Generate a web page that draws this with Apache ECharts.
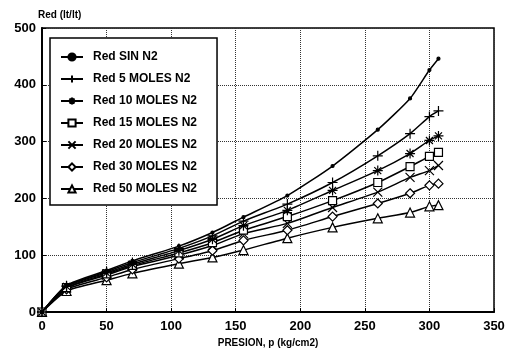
<!DOCTYPE html>
<html>
<head>
<meta charset="utf-8">
<title>Red vs presion</title>
<script src="https://cdn.jsdelivr.net/npm/echarts@6/dist/echarts.min.js"></script>
<style>
  html, body { margin: 0; padding: 0; background: #fff; }
  #main { width: 509px; height: 353px; }
</style>
</head>
<body>
<div id="main"></div>
<script>
// presion (kg/cm2)
var presion = [0, 19, 50, 70, 106, 132, 156, 190, 225, 260, 285, 300, 307];

// Red (lt/lt) por serie
var redSin = [0, 47, 73, 90, 116, 140, 167, 205, 257, 321, 376, 426, 446];
var red5   = [0, 46, 71, 87, 112, 134, 160, 190, 228, 275, 314, 344, 354];
var red10  = [0, 45, 69, 84, 108, 128, 152, 179, 214, 249, 279, 302, 310];
var red15  = [0, 43, 67, 82, 104, 122, 144, 168, 196, 228, 256, 274, 281];
var red20  = [0, 42, 65, 80, 100, 117, 138, 156, 184, 211, 237, 249, 258];
var red30  = [0, 40, 61, 75, 94, 108, 126, 144, 168, 191, 209, 223, 226];
var red50  = [0, 37, 56, 68, 85, 96, 109, 130, 149, 165, 175, 186, 188];

var seriesNames = ['Red SIN N2', 'Red 5 MOLES N2', 'Red 10 MOLES N2', 'Red 15 MOLES N2',
                   'Red 20 MOLES N2', 'Red 30 MOLES N2', 'Red 50 MOLES N2'];
var seriesData = [redSin, red5, red10, red15, red20, red30, red50];

var xTicks = [0, 50, 100, 150, 200, 250, 300, 350];
var yTicks = [0, 100, 200, 300, 400, 500];

var FONT = 'Liberation Sans';

var symbols = [
    { s: 'circle', size: 3, fill: '#000' },
    { s: 'path://M0,5L10,5M5,0L5,10', size: 10, fill: '#000' },
    { s: 'path://M0,5L10,5M5,0L5,10M1.5,1.5L8.5,8.5M8.5,1.5L1.5,8.5', size: 10, fill: '#000' },
    { s: 'rect', size: 8, fill: '#fff' },
    { s: 'path://M0,0L10,10M10,0L0,10', size: 9, fill: '#000' },
    { s: 'diamond', size: 9, fill: '#fff' },
    { s: 'triangle', size: 9, fill: '#fff' }
];

function pairs(ys) {
    return presion.map(function (x, i) { return [x, ys[i]]; });
}

var series = seriesNames.map(function (name, i) {
    return {
        name: name,
        type: 'line',
        data: pairs(seriesData[i]),
        symbol: symbols[i].s,
        symbolSize: symbols[i].size,
        showAllSymbol: true,
        smooth: 0.2,
        lineStyle: { color: '#000', width: 1.5 },
        itemStyle: { color: symbols[i].fill, borderColor: '#000', borderWidth: 1.2 },
        z: 10 - i
    };
});

var myChart = echarts.init(document.getElementById('main'));

var option = {
    animation: false,
    backgroundColor: '#fff',
    grid: {
        left: 42, right: 15, top: 28, bottom: 41,
        show: true, borderColor: '#000', borderWidth: 1.5
    },
    legend: {
        orient: 'vertical',
        left: 50, top: 38,
        data: seriesNames,
        backgroundColor: '#fff',
        borderColor: '#000',
        borderWidth: 1.5,
        borderRadius: 0,
        padding: [13, 20, 10, 10],
        itemWidth: 22,
        itemHeight: 9,
        itemGap: 10,
        textStyle: { fontFamily: FONT, fontWeight: 'bold', fontSize: 12, color: '#000', padding: [0, 0, 0, 5] }
    },
    xAxis: {
        type: 'value',
        min: xTicks[0], max: xTicks[xTicks.length - 1], interval: 50,
        name: 'PRESION, p (kg/cm2)',
        nameLocation: 'middle',
        nameGap: 26,
        nameTextStyle: { fontFamily: FONT, fontWeight: 'bold', fontSize: 10, color: '#000' },
        axisLine: { lineStyle: { color: '#000', width: 2 } },
        axisTick: { inside: true, length: 4, lineStyle: { color: '#000' } },
        axisLabel: { fontFamily: FONT, fontWeight: 'bold', fontSize: 13, color: '#000', margin: 8 },
        splitLine: { show: true, lineStyle: { type: 'dotted', color: '#333', width: 1 } }
    },
    yAxis: {
        type: 'value',
        min: yTicks[0], max: yTicks[yTicks.length - 1], interval: 100,
        name: 'Red (lt/lt)',
        nameLocation: 'end',
        nameGap: 8,
        nameTextStyle: { fontFamily: FONT, fontWeight: 'bold', fontSize: 10, color: '#000',
                         align: 'left', padding: [0, 0, 0, -4] },
        axisLine: { show: true, lineStyle: { color: '#000', width: 2 } },
        axisTick: { show: true, inside: true, length: 4, lineStyle: { color: '#000' } },
        axisLabel: { fontFamily: FONT, fontWeight: 'bold', fontSize: 13, color: '#000', margin: 6 },
        splitLine: { show: true, lineStyle: { type: 'dotted', color: '#333', width: 1 } }
    },
    series: series
};

myChart.setOption(option);
</script>
</body>
</html>
